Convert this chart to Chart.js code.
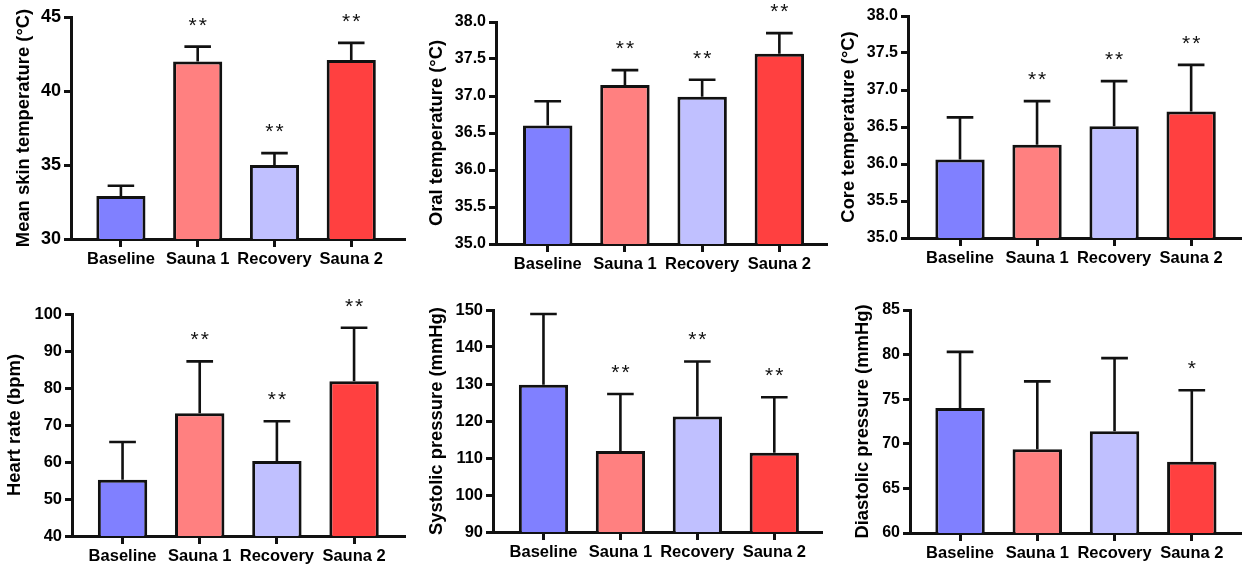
<!DOCTYPE html>
<html>
<head>
<meta charset="utf-8">
<script src="https://cdn.jsdelivr.net/npm/chart.js@4.4.1/dist/chart.umd.min.js"></script>
<style>
  body { margin: 0; background: #fff; width: 1242px; height: 569px; overflow: hidden; }
  canvas { position: absolute; }
</style>
</head>
<body>
<script>
// categories and colours shared by every panel
const categories = ['Baseline', 'Sauna 1', 'Recovery', 'Sauna 2'];
const barColors = ['#8080ff', '#ff8080', '#c0c0ff', '#ff4040'];

// mean values and SD (upper error bar only)
const skinMean = [32.9, 42.0, 35.0, 42.1];
const skinSd = [0.7, 1.0, 0.8, 1.15];
const skinStars = ['', '**', '**', '**'];
const skinTicks = [30, 45, 5];

const oralMean = [36.6, 37.15, 36.99, 37.57];
const oralSd = [0.33, 0.2, 0.23, 0.28];
const oralStars = ['', '**', '**', '**'];
const oralTicks = [35, 38, 0.5];

const coreMean = [36.06, 36.26, 36.51, 36.71];
const coreSd = [0.57, 0.59, 0.61, 0.63];
const coreStars = ['', '**', '**', '**'];
const coreTicks = [35, 38, 0.5];

const heartMean = [55.2, 73.2, 60.3, 81.8];
const heartSd = [10.2, 14.0, 10.7, 14.5];
const heartStars = ['', '**', '**', '**'];
const heartTicks = [40, 100, 10];

const sysMean = [129.8, 111.9, 121.2, 111.4];
const sysSd = [19.1, 15.4, 14.9, 15.0];
const sysStars = ['', '**', '**', '**'];
const sysTicks = [90, 150, 10];

const diaMean = [74.0, 69.4, 71.4, 68.0];
const diaSd = [6.3, 7.6, 8.2, 8.0];
const diaStars = ['', '', '', '*'];
const diaTicks = [60, 85, 5];

Chart.defaults.font.family = '"Liberation Sans", Arial, sans-serif';
Chart.defaults.color = '#000';

const INK = '#111';

// draws the upper SD whisker and significance stars above each bar
const errorBars = {
    id: 'errorBars',
    afterDatasetsDraw(chart) {
        const ctx = chart.ctx;
        const y = chart.scales.y;
        const ds = chart.data.datasets[0];
        const meta = chart.getDatasetMeta(0);
        ctx.save();
        ctx.strokeStyle = INK;
        ctx.lineWidth = 2.6;
        ctx.fillStyle = INK;
        ctx.font = '21px "Liberation Sans", Arial, sans-serif';
        ctx.letterSpacing = '2px';
        ctx.textAlign = 'center';
        ctx.textBaseline = 'alphabetic';
        meta.data.forEach((bar, i) => {
            const top = y.getPixelForValue(ds.data[i].y + ds.sd[i]);
            const half = bar.width * 0.27;
            ctx.beginPath();
            ctx.moveTo(bar.x, bar.y);
            ctx.lineTo(bar.x, top);
            ctx.moveTo(bar.x - half, top);
            ctx.lineTo(bar.x + half, top);
            ctx.stroke();
            if (ds.stars[i]) ctx.fillText(ds.stars[i], bar.x + 1, top - 15);
        });
        ctx.restore();
    }
};

function makePanel(p) {
    const canvas = document.createElement('canvas');
    canvas.width = p.w;
    canvas.height = p.h;
    canvas.style.left = p.left + 'px';
    canvas.style.top = p.top + 'px';
    document.body.appendChild(canvas);

    const padL = p.titleX - 11;
    new Chart(canvas, {
        type: 'bar',
        data: {
            datasets: [{
                data: p.mean.map((v, i) => ({ x: i, y: v })),
                sd: p.sd,
                stars: p.stars,
                backgroundColor: barColors,
                borderColor: INK,
                borderWidth: 3,
                borderSkipped: false,
                barPercentage: 0.64,
                categoryPercentage: 1
            }]
        },
        options: {
            responsive: false,
            animation: false,
            events: [],
            layout: { padding: { left: padL, top: p.area[2], right: p.w - p.area[1], bottom: 0 } },
            plugins: { legend: { display: false }, tooltip: { enabled: false } },
            scales: {
                x: {
                    type: 'linear',
                    min: p.xRange[0],
                    max: p.xRange[1],
                    offset: false,
                    afterFit: s => { s.height = p.h - p.area[3]; },
                    afterBuildTicks: s => { s.ticks = categories.map((_, i) => ({ value: i })); },
                    ticks: {
                        callback: v => categories[v],
                        autoSkip: false,
                        maxRotation: 0,
                        padding: 3,
                        font: { size: 16.5, weight: 'bold' }
                    },
                    grid: { offset: false, drawOnChartArea: false, tickLength: 8, tickWidth: 3, tickColor: INK },
                    border: { color: INK, width: 3 }
                },
                y: {
                    min: p.ticks[0],
                    max: p.ticks[1],
                    afterFit: s => { s.width = p.area[0] - padL; },
                    ticks: {
                        stepSize: p.ticks[2],
                        padding: 3,
                        callback: v => v.toFixed(p.dec),
                        font: { size: p.tickSize, weight: 'bold' }
                    },
                    grid: { drawOnChartArea: false, tickLength: 7, tickWidth: 3, tickColor: INK },
                    border: { color: INK, width: 3 },
                    title: {
                        display: true,
                        text: p.title,
                        padding: 0,
                        font: { size: 18.4, weight: 'bold' }
                    }
                }
            }
        },
        plugins: [errorBars]
    });
}

// area = [left, right, top, bottom] of the plot frame inside each canvas
makePanel({ left: 0, top: 0, w: 414, h: 285, area: [71, 405, 17, 239], titleX: 24, xRange: [-0.65, 3.7], tickSize: 18,
    title: 'Mean skin temperature (°C)', mean: skinMean, sd: skinSd, stars: skinStars, ticks: skinTicks, dec: 0 });
makePanel({ left: 414, top: 0, w: 414, h: 285, area: [82, 414, 22, 244], titleX: 23, xRange: [-0.67, 3.63], tickSize: 16,
    title: 'Oral temperature (°C)', mean: oralMean, sd: oralSd, stars: oralStars, ticks: oralTicks, dec: 1 });
makePanel({ left: 828, top: 0, w: 414, h: 285, area: [80, 414, 16, 238], titleX: 21, xRange: [-0.675, 3.66], tickSize: 16,
    title: 'Core temperature (°C)', mean: coreMean, sd: coreSd, stars: coreStars, ticks: coreTicks, dec: 1 });
makePanel({ left: 0, top: 285, w: 414, h: 284, area: [72, 405, 29, 251], titleX: 15, xRange: [-0.655, 3.66], tickSize: 16.5,
    title: 'Heart rate (bpm)', mean: heartMean, sd: heartSd, stars: heartStars, ticks: heartTicks, dec: 0 });
makePanel({ left: 414, top: 285, w: 414, h: 284, area: [79, 408, 25, 247], titleX: 23, xRange: [-0.656, 3.62], tickSize: 16.5,
    title: 'Systolic pressure (mmHg)', mean: sysMean, sd: sysSd, stars: sysStars, ticks: sysTicks, dec: 0 });
makePanel({ left: 828, top: 285, w: 414, h: 284, area: [82, 414, 25, 248], titleX: 35, xRange: [-0.648, 3.65], tickSize: 16,
    title: 'Diastolic pressure (mmHg)', mean: diaMean, sd: diaSd, stars: diaStars, ticks: diaTicks, dec: 0 });
</script>
</body>
</html>
